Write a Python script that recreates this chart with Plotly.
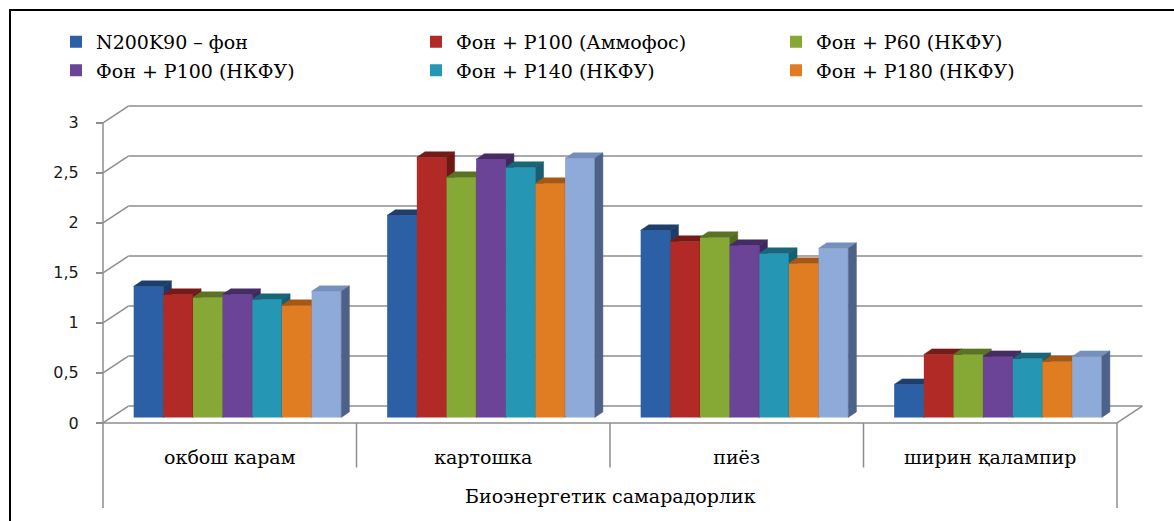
import plotly.graph_objects as go

# ---------------- data ----------------
categories = ["окбош карам", "картошка", "пиёз", "ширин қалампир"]
series_names = [
    "N200K90 – фон",
    "Фон + P100 (Аммофос)",
    "Фон + P60 (НКФУ)",
    "Фон + P100 (НКФУ)",
    "Фон + P140 (НКФУ)",
    "Фон + P180 (НКФУ)",
    "Қатор 7",
]
s1 = [1.31, 2.02, 1.87, 0.33]
s2 = [1.23, 2.60, 1.76, 0.63]
s3 = [1.20, 2.40, 1.80, 0.63]
s4 = [1.23, 2.58, 1.72, 0.61]
s5 = [1.18, 2.50, 1.64, 0.59]
s6 = [1.12, 2.34, 1.54, 0.56]
s7 = [1.26, 2.59, 1.69, 0.61]
values = [s1, s2, s3, s4, s5, s6, s7]
y_tickvals = [0, 0.5, 1, 1.5, 2, 2.5, 3]
y_ticktext = ["0", "0,5", "1", "1,5", "2", "2,5", "3"]
axis_title = "Биоэнергетик самарадорлик"

# ---------------- style ----------------
fronts = ["#2B5FA6", "#B22A25", "#86A834", "#6B4397", "#2596B3", "#E07C22", "#8EAAD8"]
tops = ["#1D3F6E", "#771A17", "#5B7322", "#462B66", "#186679", "#A65812", "#7690BD"]
sides = ["#1E3D66", "#6E1714", "#536A1E", "#3F2760", "#175E70", "#9A5210", "#4D6189"]
gray = "#8e8e8e"
serif = "DejaVu Serif"

W, H = 1174, 521


def px_x(p):
    return p / W


def px_y(p):
    return 1 - p / H


bar_w = 0.117
group_start = -0.379
base = 0.055
dx, dy = 0.032, 0.055
wall_dx, wall_dy = 0.1, 0.168

fig = go.Figure()
for j, (name, vals) in enumerate(zip(series_names, values)):
    off = group_start + j * bar_w
    fig.add_trace(go.Bar(
        x=list(range(len(categories))), y=vals, base=base, offset=off, width=bar_w,
        name=name, marker=dict(color=fronts[j], line=dict(width=0)),
        showlegend=j < 6, legend="legend" if j < 3 else "legend2", zorder=2 * j,
        hovertemplate="%{y}<extra>" + name + "</extra>",
    ))
    tx, ty, sx, sy = [], [], [], []
    for i, v in enumerate(vals):
        xl = i + off
        xr = xl + bar_w
        top = base + v
        tx += [xl, xl + dx, xr + dx, xr, xl, None]
        ty += [top, top + dy, top + dy, top, top, None]
        sx += [xr, xr + dx, xr + dx, xr, xr, None]
        sy += [base, base + dy, top + dy, top, base, None]
    fig.add_trace(go.Scatter(x=tx, y=ty, fill="toself", fillcolor=tops[j], mode="lines",
                             line=dict(width=0.5, color=tops[j]), hoverinfo="skip",
                             showlegend=False, zorder=2 * j + 1))
    fig.add_trace(go.Scatter(x=sx, y=sy, fill="toself", fillcolor=sides[j], mode="lines",
                             line=dict(width=0.5, color=sides[j]), hoverinfo="skip",
                             showlegend=False, zorder=2 * j + 1))

shapes = []
ln = dict(color=gray, width=1.5)
for t in y_tickvals:
    shapes.append(dict(type="line", xref="x", yref="y", x0=-0.5 + wall_dx, x1=3.5 + wall_dx,
                       y0=t + wall_dy, y1=t + wall_dy, line=ln, layer="below"))
    shapes.append(dict(type="line", xref="x", yref="y", x0=-0.5, x1=-0.5 + wall_dx,
                       y0=t, y1=t + wall_dy, line=ln, layer="below"))
# floor
shapes.append(dict(type="line", xref="x", yref="y", x0=-0.5, x1=3.5, y0=0, y1=0, line=ln, layer="below"))
shapes.append(dict(type="line", xref="x", yref="y", x0=3.5, x1=3.5 + wall_dx, y0=0, y1=wall_dy,
                   line=ln, layer="below"))
# front value axis
shapes.append(dict(type="line", xref="x", yref="y", x0=-0.5, x1=-0.5, y0=0, y1=3, line=ln, layer="below"))
# category axis table
for xv in [-0.5, 3.5]:
    shapes.append(dict(type="line", xref="x", yref="paper", x0=xv, x1=xv,
                       y0=px_y(427), y1=px_y(513), line=ln, layer="below"))
for xv in [0.5, 1.5, 2.5]:
    shapes.append(dict(type="line", xref="x", yref="paper", x0=xv, x1=xv,
                       y0=px_y(427), y1=px_y(472), line=ln, layer="below"))
# outer frame (right and bottom edges lie outside the visible area)
shapes.append(dict(type="rect", xref="paper", yref="paper", x0=px_x(10), x1=px_x(1195),
                   y0=px_y(545), y1=px_y(10), line=dict(color="black", width=2), layer="above"))

x_lo, x_hi = -0.55, 3.65
y_lo, y_hi = -0.05, 3.25
sx_px = 253.5
sy_px = 101.0

fig.update_layout(
    width=W, height=H, margin=dict(l=0, r=0, t=0, b=0),
    paper_bgcolor="white", plot_bgcolor="rgba(0,0,0,0)",
    barmode="overlay",
    shapes=shapes,
    xaxis=dict(
        range=[x_lo, x_hi],
        domain=[px_x(103 + (x_lo + 0.5) * sx_px), px_x(103 + (x_hi + 0.5) * sx_px)],
        tickvals=list(range(len(categories))), ticktext=categories,
        showgrid=False, zeroline=False, showline=False, ticks="",
        tickfont=dict(family=serif, size=19, color="black"), ticklabelstandoff=16,
    ),
    yaxis=dict(
        range=[y_lo, y_hi],
        domain=[px_y(427 - y_lo * sy_px), px_y(427 - y_hi * sy_px)],
        anchor="free", position=px_x(103),
        tickvals=y_tickvals, ticktext=y_ticktext,
        showgrid=False, zeroline=False, showline=False,
        ticks="outside", ticklen=7, tickwidth=1.5, tickcolor=gray,
        tickfont=dict(family="DejaVu Sans", size=16, color="#1a1a1a"), ticklabelstandoff=14,
    ),
    legend=dict(orientation="h", x=px_x(56), y=px_y(23), xanchor="left", yanchor="top",
                entrywidth=315, font=dict(family=serif, size=19, color="black"),
                bgcolor="rgba(0,0,0,0)"),
    legend2=dict(orientation="h", x=px_x(56), y=px_y(52), xanchor="left", yanchor="top",
                 entrywidth=315, font=dict(family=serif, size=19, color="black"),
                 bgcolor="rgba(0,0,0,0)"),
    annotations=[dict(text=axis_title, x=1.5, xref="x", y=px_y(501), yref="paper",
                      showarrow=False, font=dict(family=serif, size=19, color="black"),
                      xanchor="center", yanchor="middle")],
)

fig.write_html(
    "out.html",
    config={"displayModeBar": False},
    post_script="document.body.style.margin='0';document.body.style.overflow='hidden';",
)
